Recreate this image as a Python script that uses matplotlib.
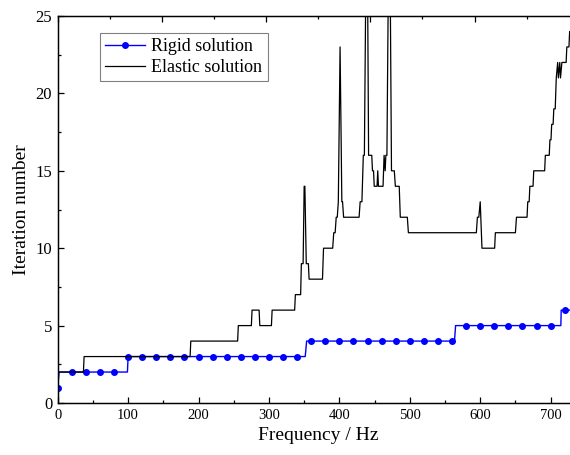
import matplotlib
matplotlib.use("Agg")
import matplotlib.pyplot as plt
from matplotlib.lines import Line2D
from matplotlib.ticker import MultipleLocator

plt.rcParams['font.family'] = ['Liberation Serif', 'DejaVu Serif']

# Rigid solution, one marker every 20 Hz
rigid_freq = [0, 20, 40, 60, 80, 100, 120, 140, 160, 180, 200, 220, 240,
              260, 280, 300, 320, 340, 360, 380, 400, 420, 440, 460, 480,
              500, 520, 540, 560, 580, 600, 620, 640, 660, 680, 700, 720]
rigid_iter = [1, 2, 2, 2, 2, 3, 3, 3, 3, 3, 3, 3, 3,
              3, 3, 3, 3, 3, 4, 4, 4, 4, 4, 4, 4,
              4, 4, 4, 4, 5, 5, 5, 5, 5, 5, 5, 6]

# the rigid curve itself (jumps between markers)
rigid_line_freq = [0, 2, 99, 100, 351.5, 353.5, 563.5, 565, 714.5, 715, 740]
rigid_line_iter = [1, 2, 2, 3, 3, 4, 4, 5, 5, 6, 6]

# Elastic solution
elastic_freq = [0, 36.5, 37.5, 188, 189, 255.5, 256.5, 275, 276, 286, 287, 303.5, 304.5, 336.5, 337.5,
                345, 346, 348.5, 350, 351, 353, 356, 357, 376, 377.5,
                390.5, 392, 394, 395.5, 397, 398.5, 401, 403.5, 404.5, 406,
                428, 429.5, 432, 434, 435.5, 439, 441.5, 446, 447, 448.5, 449.5,
                453.5, 454.5, 455.5, 462, 463.5, 465, 466, 467.5, 471, 474,
                478, 479.5, 485, 486.5, 496.5, 498,
                594.5, 596, 598, 600, 602.5, 620.5, 621.5, 650, 651.5, 666.5,
                667.5, 669.5, 670.5, 675, 676, 691.5, 692.5, 698, 699, 700.5,
                701.5, 703.5, 704.5, 706.5, 708, 710, 711, 713, 714, 716,
                722, 723, 726, 727, 740]
elastic_iter = [2, 2, 3, 3, 4, 4, 5, 5, 6, 6, 5, 5, 6, 6, 7,
                7, 9, 9, 14, 14, 9, 9, 8, 8, 10,
                10, 11, 11, 12, 12, 13, 23, 13, 13, 12,
                12, 13, 13, 16, 16, 35, 16, 16, 15, 15, 14,
                14, 15, 14, 14, 16, 15, 16, 16, 35, 15,
                15, 14, 14, 12, 12, 11,
                11, 12, 12, 13, 10, 10, 11, 11, 12, 12,
                13, 13, 14, 14, 15, 15, 16, 16, 17, 17,
                18, 18, 19, 19, 21, 22, 21, 22, 21, 22,
                22, 23, 23, 24, 24]

fig = plt.figure(figsize=(5.7, 4.55), dpi=100)
# right spine lies outside the picture (cropped like the original)
ax = fig.add_axes([57.7 / 570, 52 / 455, (578.8 - 57.7) / 570, 387 / 455])

ax.plot(rigid_line_freq, rigid_line_iter, color='blue', lw=1.0)
ax.plot(rigid_freq, rigid_iter, 'o', color='blue', ms=4)
ax.plot(elastic_freq, elastic_iter, color='black', lw=0.9)

ax.set_xlim(0, 740)
ax.set_ylim(0, 25)
ax.xaxis.set_major_locator(MultipleLocator(100))
ax.xaxis.set_minor_locator(MultipleLocator(50))
ax.yaxis.set_major_locator(MultipleLocator(5))
ax.yaxis.set_minor_locator(MultipleLocator(2.5))
ax.tick_params(which='both', direction='in', width=0.9)
ax.tick_params(which='major', length=4.5)
ax.tick_params(which='minor', length=2.5)
ax.tick_params(axis='x', labelsize=10.5, pad=4)
ax.tick_params(axis='y', labelsize=12, pad=4)
for s in ax.spines.values():
    s.set_linewidth(1.0)

# top axis ticks (separate 0-1 scale, no labels)
ax2 = ax.twiny()
ax2.set_xlim(0, 1)
ax2.xaxis.set_major_locator(MultipleLocator(0.2))
ax2.xaxis.set_minor_locator(MultipleLocator(0.1))
ax2.tick_params(which='both', direction='in', labeltop=False, width=0.9)
ax2.tick_params(which='major', length=4.5)
ax2.tick_params(which='minor', length=2.5)

ax.set_xlabel('Frequency / Hz', fontsize=14)
ax.set_ylabel('Iteration number', fontsize=14)

handles = [Line2D([], [], color='blue', marker='o', ms=4, lw=1.0),
           Line2D([], [], color='black', lw=0.9)]
leg = ax.legend(handles, ['Rigid solution', 'Elastic solution'],
                loc='upper left',
                bbox_to_anchor=((100 - 57.7) / 521.1, (403 - 33) / 387),
                borderaxespad=0, fancybox=False, edgecolor='#808080',
                framealpha=1, fontsize=13, handlelength=2.2,
                handletextpad=0.35, labelspacing=0.2, borderpad=0.3)
leg.get_frame().set_linewidth(0.8)

fig.savefig('out.png', dpi=100)
